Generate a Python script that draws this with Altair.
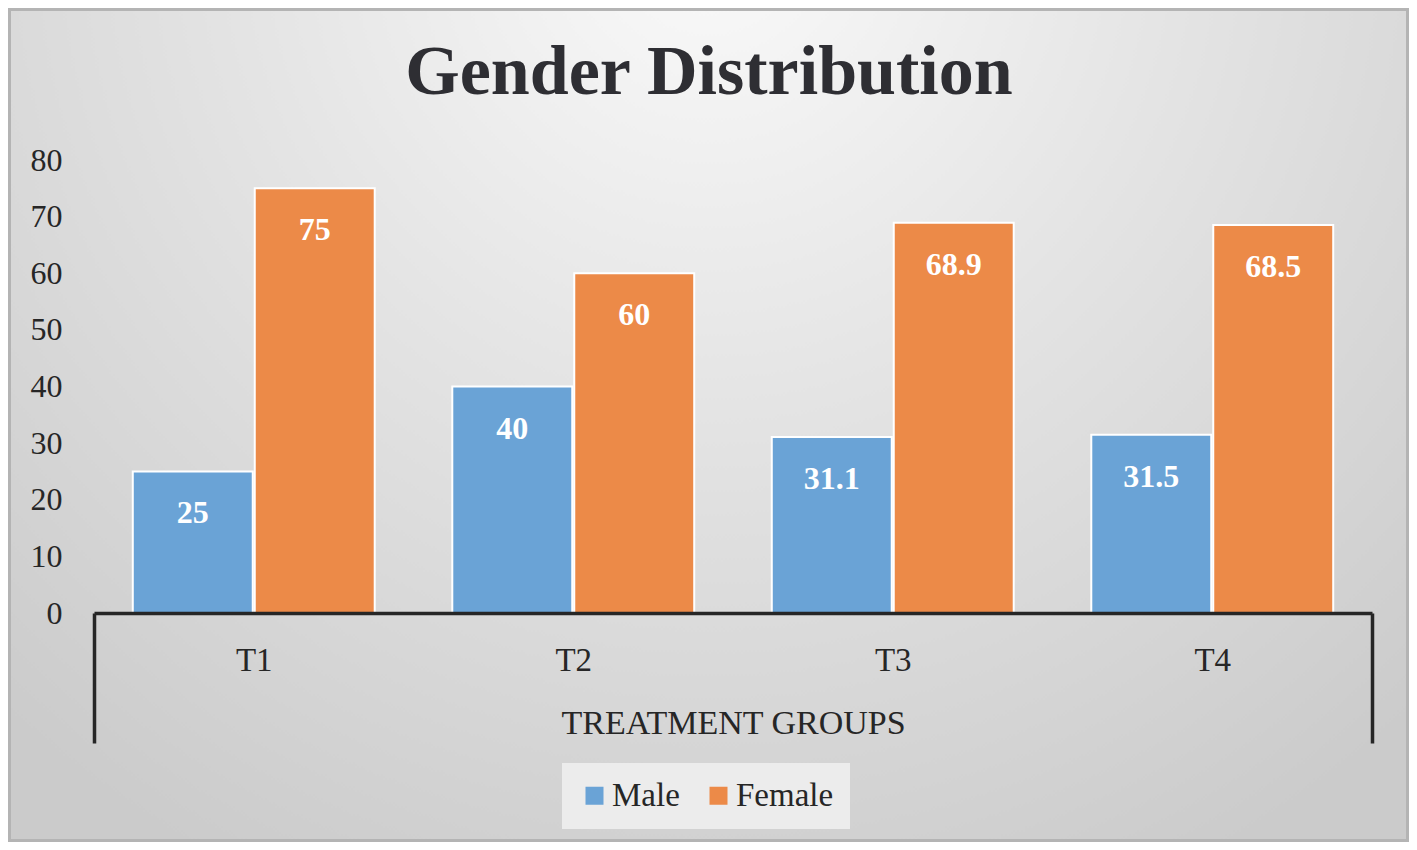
import altair as alt
import pandas as pd

groups = ["T1", "T2", "T3", "T4"]
genders = ["Male", "Female"]
male = [25, 40, 31.1, 31.5]
female = [75, 60, 68.9, 68.5]
y_ticks = [0, 10, 20, 30, 40, 50, 60, 70, 80]

rows = []
for g, m, f in zip(groups, male, female):
    rows.append({"group": g, "gender": "Male", "value": m})
    rows.append({"group": g, "gender": "Female", "value": f})
df = pd.DataFrame(rows)

W, H = 1278, 453
PL, PT, PR, PB = 86, 152, 37, 229
SERIF = "Liberation Serif"
INK = "#262626"

bg = alt.Chart(pd.DataFrame({"k": [0]})).mark_rect(
    fill=alt.RadialGradient(
        gradient="radial",
        stops=[
            alt.GradientStop(color="#fafafa", offset=0),
            alt.GradientStop(color="#e4e4e4", offset=0.45),
            alt.GradientStop(color="#cbcbcb", offset=1),
        ],
        x1=0.5, y1=0.15, r1=0, x2=0.5, y2=0.15, r2=0.75,
    ),
    stroke="#b4b4b4",
    strokeWidth=3,
).encode(
    x=alt.value(-PL + 1.5),
    x2=alt.value(W + PR - 1.5),
    y=alt.value(-PT + 1.5),
    y2=alt.value(H + PB - 1.5),
)

x_enc = alt.X(
    "group:N",
    sort=groups,
    scale=alt.Scale(domain=groups, paddingInner=0, paddingOuter=0),
    axis=alt.Axis(
        title="TREATMENT GROUPS",
        titleFont=SERIF,
        titleFontSize=34,
        titleFontWeight="normal",
        titleColor=INK,
        titleBaseline="alphabetic",
        titleY=120,
        labelFont=SERIF,
        labelFontSize=33,
        labelColor=INK,
        labelAngle=0,
        labelBaseline="alphabetic",
        labelPadding=-73,
        domainColor=INK,
        domainWidth=3.5,
        tickColor={
            "condition": {"test": "datum.value === 'T4' || datum.extra", "value": INK},
            "value": "transparent",
        },
        tickWidth=3.5,
        tickSize=130,
        tickBand="extent",
        grid=False,
        zindex=1,
    ),
)

y_enc = alt.Y(
    "value:Q",
    scale=alt.Scale(domain=[0, 80], nice=False),
    axis=alt.Axis(
        title=None,
        values=y_ticks,
        domain=False,
        ticks=False,
        grid=False,
        labelFont=SERIF,
        labelFontSize=32,
        labelColor=INK,
        labelPadding=32,
        zindex=1,
    ),
)

xoff = alt.XOffset(
    "gender:N",
    sort=genders,
    scale=alt.Scale(domain=genders, paddingInner=0.0164, paddingOuter=0.318),
)

color = alt.Color(
    "gender:N",
    sort=genders,
    scale=alt.Scale(domain=genders, range=["#6aa3d6", "#ec8a48"]),
    legend=alt.Legend(
        title=None,
        orient="none",
        direction="horizontal",
        legendX=468,
        legendY=603,
        symbolType="square",
        symbolSize=324,
        symbolStrokeWidth=0,
        labelFont=SERIF,
        labelFontSize=33,
        labelColor=INK,
        labelOffset=1,
        columnPadding=22,
        padding=16,
        fillColor="#ececec",
        zindex=1,
    ),
)

bars = alt.Chart(df).mark_bar(stroke="white", strokeWidth=2).encode(
    x=x_enc, xOffset=xoff, y=y_enc, color=color
)

labels = alt.Chart(df).mark_text(
    baseline="middle",
    dy=42,
    font=SERIF,
    fontSize=32,
    fontWeight="bold",
    color="white",
).encode(
    x=alt.X("group:N", sort=groups),
    xOffset=alt.XOffset("gender:N", sort=genders),
    y=alt.Y("value:Q"),
    text=alt.Text("value:Q", format="~g"),
)

chart = alt.layer(bg, bars, labels).properties(
    width=W,
    height=H,
    padding={"left": PL, "top": PT, "right": PR, "bottom": PB},
    autosize=alt.AutoSizeParams(type="none"),
    background="#d6d6d6",
    title=alt.TitleParams(
        text="Gender Distribution",
        font=SERIF,
        fontSize=70,
        fontWeight="bold",
        color="#2e2e33",
        anchor="middle",
        baseline="alphabetic",
        dx=-24,
        offset=-156,
        zindex=1,
    ),
).configure_view(stroke=None)

chart.save("out.html", embed_options={"renderer": "svg", "actions": False})
